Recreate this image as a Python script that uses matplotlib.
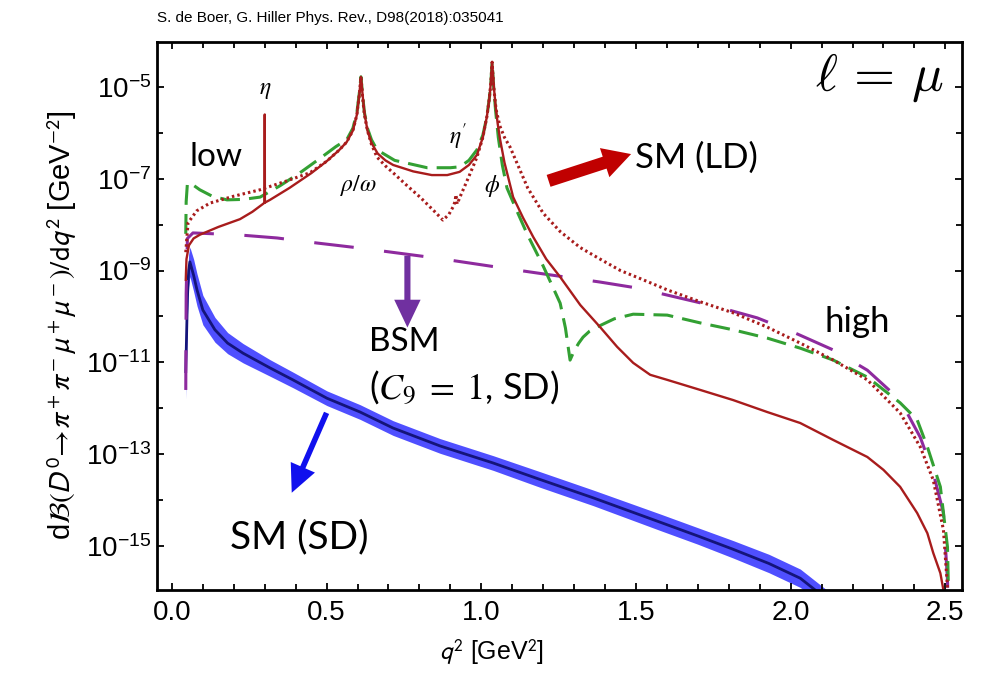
import numpy as np
import matplotlib.pyplot as plt
from matplotlib.ticker import FixedLocator, FuncFormatter, MultipleLocator

plt.rcParams['font.family'] = ['Liberation Sans', 'DejaVu Sans']
plt.rcParams['mathtext.fontset'] = 'stixsans'

# q^2 [GeV^2] and log10(dB/dq^2)

# SM (LD), solid
q_ld = [0.0447, 0.047, 0.055, 0.07, 0.09, 0.15, 0.22, 0.26, 0.294, 0.2995,
        0.300, 0.3005, 0.317, 0.38, 0.45, 0.50, 0.54, 0.565, 0.585, 0.598,
        0.606, 0.611, 0.616, 0.622, 0.632, 0.645, 0.665, 0.69, 0.715, 0.78,
        0.84, 0.89, 0.93, 0.96, 0.986, 1.005, 1.018, 1.026, 1.031, 1.035,
        1.04, 1.046, 1.053, 1.061, 1.075, 1.09, 1.103, 1.135, 1.168, 1.21,
        1.255, 1.32, 1.384, 1.439, 1.491, 1.546, 1.601, 1.708, 1.814, 1.924,
        2.031, 2.138, 2.248, 2.30, 2.354, 2.409, 2.442, 2.461, 2.484, 2.494,
        2.505, 2.512]
lg_ld = [-9.2, -8.75, -8.45, -8.3, -8.22, -8.05, -7.88, -7.72, -7.55, -7.52,
         -5.6, -7.52, -7.46, -7.2, -6.88, -6.62, -6.38, -6.2, -5.95, -5.6,
         -5.15, -4.78, -5.15, -5.55, -5.95, -6.22, -6.45, -6.6, -6.7, -6.84,
         -6.92, -6.92, -6.85, -6.7, -6.48, -6.1, -5.65, -5.25, -4.9, -4.46,
         -4.95, -5.4, -5.8, -6.15, -6.65, -7.05, -7.4, -7.85, -8.27, -8.75,
         -9.14, -9.75, -10.23, -10.66, -11.01, -11.27, -11.38, -11.60, -11.82, -12.08,
         -12.32, -12.69, -13.06, -13.34, -13.71, -14.28, -14.72, -15.15, -15.59, -15.96,
         -16.6, -17.5]

# SM (LD) variant, dotted
q_dot = [0.0447, 0.052, 0.08, 0.123, 0.2, 0.285, 0.37, 0.446, 0.50, 0.54,
         0.565, 0.585, 0.598, 0.606, 0.611, 0.616, 0.622, 0.632, 0.645, 0.663,
         0.69, 0.715, 0.76, 0.802, 0.85, 0.876, 0.895, 0.909, 0.915, 0.918,
         0.922, 0.931, 0.96, 0.986, 1.005, 1.018, 1.026, 1.031, 1.035, 1.04,
         1.048, 1.06, 1.075, 1.093, 1.15, 1.2, 1.255, 1.32, 1.384, 1.45,
         1.523, 1.601, 1.708, 1.814, 1.924, 2.031, 2.138, 2.248, 2.354, 2.419,
         2.461, 2.494, 2.507, 2.514]
lg_dot = [-8.6, -7.96, -7.7, -7.53, -7.38, -7.24, -7.05, -6.87, -6.62, -6.38,
          -6.2, -5.95, -5.6, -5.15, -4.78, -5.2, -5.6, -5.95, -6.25, -6.53,
          -6.72, -6.87, -7.15, -7.40, -7.72, -7.90, -7.78, -7.61, -7.5, -7.35,
          -7.55, -7.40, -6.95, -6.53, -6.1, -5.65, -5.25, -4.9, -4.46, -5.0,
          -5.5, -5.85, -6.1, -6.31, -7.2, -7.75, -8.15, -8.5, -8.75, -9.0,
          -9.2, -9.42, -9.68, -9.92, -10.23, -10.58, -10.95, -11.38, -12.10, -12.84,
          -13.56, -14.65, -15.9, -17.0]

# green dashed
q_gr = [0.0447, 0.046, 0.05, 0.065, 0.09, 0.13, 0.178, 0.23, 0.285, 0.35,
        0.414, 0.48, 0.53, 0.565, 0.585, 0.598, 0.606, 0.611, 0.616, 0.622,
        0.632, 0.645, 0.663, 0.72, 0.825, 0.90, 0.931, 0.96, 0.986, 1.005,
        1.018, 1.026, 1.031, 1.035, 1.04, 1.046, 1.055, 1.068, 1.083, 1.115,
        1.148, 1.2, 1.255, 1.272, 1.287, 1.30, 1.315, 1.329, 1.35, 1.374,
        1.43, 1.491, 1.601, 1.708, 1.814, 1.924, 2.031, 2.138, 2.248, 2.354,
        2.409, 2.442, 2.484, 2.507, 2.512]
lg_gr = [-8.2, -7.5, -7.1, -7.12, -7.24, -7.38, -7.46, -7.45, -7.40, -7.15,
         -6.87, -6.55, -6.3, -6.15, -5.9, -5.55, -5.12, -4.78, -5.15, -5.55,
         -5.9, -6.15, -6.37, -6.6, -6.76, -6.76, -6.74, -6.6, -6.37, -6.05,
         -5.65, -5.25, -4.9, -4.46, -5.0, -5.5, -6.1, -6.7, -7.2, -7.7,
         -8.2, -8.9, -9.71, -10.25, -10.95, -10.75, -10.58, -10.45, -10.32, -10.23,
         -10.05, -9.95, -9.97, -10.14, -10.29, -10.47, -10.69, -10.95, -11.32, -11.88,
         -12.25, -12.84, -13.71, -15.02, -16.5]

# BSM (C9 = 1, SD), purple long dashes
q_bsm = [0.0447, 0.046, 0.05, 0.068, 0.21, 0.34, 0.469, 0.608, 0.857, 1.116,
         1.384, 1.504, 1.643, 1.763, 1.892, 2.008, 2.138, 2.248, 2.354, 2.419,
         2.461, 2.494, 2.507, 2.512]
lg_bsm = [-11.6, -9.5, -8.3, -8.18, -8.22, -8.29, -8.40, -8.51, -8.73, -8.99,
          -9.25, -9.38, -9.60, -9.79, -10.03, -10.34, -10.73, -11.17, -11.82, -12.63,
          -13.41, -14.28, -15.74, -17.0]

# SM (SD), central line and band half-width (decades)
q_sd = [0.0447, 0.050, 0.054, 0.058, 0.07, 0.081, 0.100, 0.139, 0.18, 0.23,
        0.317, 0.391, 0.501, 0.608, 0.715, 0.867, 1.038, 1.19, 1.362, 1.578,
        1.70, 1.814, 1.93, 2.031, 2.08, 2.2]
lg_sd = [-11.2, -9.6, -9.0, -8.81, -9.1, -9.42, -9.86, -10.29, -10.58, -10.80,
         -11.12, -11.38, -11.78, -12.08, -12.43, -12.82, -13.19, -13.55, -13.95, -14.48,
         -14.78, -15.07, -15.38, -15.70, -15.96, -16.6]
hw_sd = [0.6, 0.4, 0.35, 0.32, 0.35, 0.35, 0.32, 0.27, 0.23, 0.21,
         0.18, 0.17, 0.16, 0.16, 0.16, 0.16, 0.16, 0.17, 0.17, 0.18,
         0.18, 0.19, 0.2, 0.2, 0.2, 0.2]

red = '#a81c1c'

fig = plt.figure(figsize=(9.87, 6.76), dpi=100)
ax = fig.add_axes([0.159, 0.127, 0.816, 0.811])

lg_sd_a = np.array(lg_sd)
hw_a = np.array(hw_sd)
ax.fill_between(q_sd, 10**(lg_sd_a - hw_a), 10**(lg_sd_a + hw_a), color='#3c3cff', alpha=0.9, lw=0)
ax.plot(q_sd, 10**lg_sd_a, color='#14147a', lw=2)

ax.plot(q_bsm, 10**np.array(lg_bsm), color='#8e2a9e', lw=2.2, dashes=(13, 10))
ax.plot(q_gr, 10**np.array(lg_gr), color='#33a033', lw=2.2, dashes=(6.5, 3))
ax.plot(q_dot, 10**np.array(lg_dot), color=red, lw=2.2, dashes=(0.8, 1.0))
ax.plot(q_ld, 10**np.array(lg_ld), color=red, lw=1.7)

ax.set_yscale('log')
ax.set_xlim(-0.0485, 2.555)
ax.set_ylim(10**-15.96, 10**-4.02)

ax.xaxis.set_major_locator(MultipleLocator(0.5))
ax.xaxis.set_minor_locator(MultipleLocator(0.1))
ax.xaxis.set_major_formatter(FuncFormatter(lambda v, p: f'{v:.1f}'))
ax.yaxis.set_major_locator(FixedLocator([10.0**e for e in range(-15, -4, 2)]))
ax.yaxis.set_minor_locator(FixedLocator([10.0**e for e in range(-16, -3, 2)]))
ax.yaxis.set_major_formatter(FuncFormatter(lambda v, p: r'$\mathdefault{10^{%d}}$' % round(np.log10(v))))
ax.yaxis.set_minor_formatter(FuncFormatter(lambda v, p: ''))
ax.tick_params(which='both', direction='in', top=True, right=True, width=1.3, labelsize=20)
ax.tick_params(which='major', length=5)
ax.tick_params(which='minor', length=4)
ax.tick_params(axis='x', pad=7)
ax.tick_params(axis='y', pad=4)
for s in ax.spines.values():
    s.set_linewidth(2)

ax.set_ylabel(r'd$\mathcal{B}(D^0\!\rightarrow\!\pi^+\pi^-\mu^+\mu^-)/\mathrm{d}q^2$ [GeV$^{-2}$]', fontsize=21)
ax.yaxis.set_label_coords(-0.118, 0.484)
ax.yaxis.label.set_verticalalignment('center')
ax.set_xlabel(r'$q^2$ [GeV$^2$]', fontsize=18)
ax.xaxis.set_label_coords(0.415, -0.113)
ax.xaxis.label.set_verticalalignment('center')

fig.text(157 / 987, 1 - 18 / 676, 'S. de Boer, G. Hiller Phys. Rev., D98(2018):035041',
         fontsize=11, va='center', ha='left')

# curve labels
tf = ['Lato', 'DejaVu Sans']
ax.text(0.978, 0.934, r'$\ell\,=\,\mu$', transform=ax.transAxes, fontsize=38,
        ha='right', va='center', math_fontfamily='cm')
ax.text(0.1345, 0.912, r'$\eta$', transform=ax.transAxes, fontsize=17, ha='center', va='center', math_fontfamily='stix')
ax.text(0.250, 0.739, r'$\rho/\omega$', transform=ax.transAxes, fontsize=17, ha='center', va='center', math_fontfamily='stix')
ax.text(0.374, 0.827, r"$\eta'$", transform=ax.transAxes, fontsize=17, ha='center', va='center', math_fontfamily='stix')
ax.text(0.416, 0.737, r'$\phi$', transform=ax.transAxes, fontsize=17, ha='center', va='center', math_fontfamily='stix')

ax.text(0.041, 0.790, 'low', transform=ax.transAxes, fontsize=24, family=tf, ha='left', va='center')
ax.text(0.829, 0.490, 'high', transform=ax.transAxes, fontsize=25, family=tf, ha='left', va='center')
ax.text(0.593, 0.788, 'SM (LD)', transform=ax.transAxes, fontsize=25, family=tf, ha='left', va='center')
ax.text(0.263, 0.4526, 'BSM', transform=ax.transAxes, fontsize=24, family=tf, ha='left', va='center')
ax.text(0.263, 0.369, r'($C_9\;=\;1$, SD)', transform=ax.transAxes, fontsize=26, family=tf,
        ha='left', va='center', math_fontfamily='stix')
ax.text(0.091, 0.097, 'SM (SD)', transform=ax.transAxes, fontsize=28, family=tf, ha='left', va='center')

# arrows
ax.annotate('', xy=(0.592, 0.797), xytext=(0.483, 0.745), xycoords='axes fraction',
            arrowprops=dict(arrowstyle='simple,head_length=1.0,head_width=1.1,tail_width=0.45',
                            color='#c00000', lw=0, mutation_scale=20))
ax.annotate('', xy=(0.311, 0.474), xytext=(0.311, 0.615), xycoords='axes fraction',
            arrowprops=dict(arrowstyle='simple,head_length=1.0,head_width=0.95,tail_width=0.22',
                            color='#7030a0', lw=0, mutation_scale=20))
ax.annotate('', xy=(0.166, 0.173), xytext=(0.212, 0.328), xycoords='axes fraction',
            arrowprops=dict(arrowstyle='simple,head_length=1.0,head_width=0.95,tail_width=0.2',
                            color='#1010ee', lw=0, mutation_scale=20))

fig.savefig('out.png', dpi=100)
